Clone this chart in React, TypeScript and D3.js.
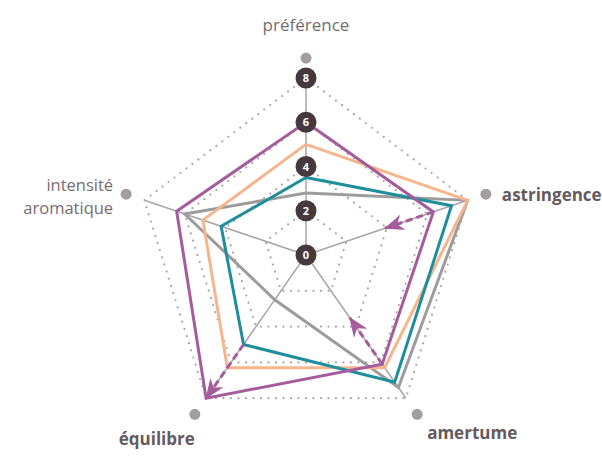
import React from "react";
import * as d3 from "d3";

const axes = ["préférence", "astringence", "amertume", "équilibre", "intensité aromatique"];
const seriesNames = ["gris", "pêche", "bleu", "violet"];
const grayValues = [2.8, 8.0, 7.4, 2.5, 6.0];
const peachValues = [5.0, 8.0, 6.3, 6.3, 5.1];
const tealValues = [3.5, 7.2, 7.1, 5.0, 4.2];
const purpleValues = [6.0, 6.3, 6.1, 8.0, 6.4];
const arrowAxis = [1, 2, 3];
const arrowFrom = [6.3, 6.1, 5.0];
const arrowTo = [3.9, 3.5, 8.0];
const gridLevels = [2, 4, 6, 8];
const tickLabels = [0, 2, 4, 6, 8];

const W = 602, H = 473;
const CX = 306, CY = 255, RX = 170, RY = 177;
const colors = ["#9d9c9c", "#f5b68e", "#1f8e9c", "#a55c9d"];
const allSeries = [grayValues, peachValues, tealValues, purpleValues];

const rScale = d3.scaleLinear().domain([0, 8]).range([0, 1]);
const aScale = d3.scaleLinear().domain([0, axes.length]).range([0, 2 * Math.PI]);

function pt(i: number, v: number): [number, number] {
  const a = aScale(i);
  const r = rScale(v);
  return [CX + RX * Math.sin(a) * r, CY - RY * Math.cos(a) * r];
}

const labelLayout = [
  { dx: 0, dy: -27, anchor: "middle", weight: 400, size: 17, gap: 0 },
  { dx: 16, dy: 7, anchor: "start", weight: 700, size: 17, gap: 0 },
  { dx: 10, dy: 25, anchor: "start", weight: 700, size: 17, gap: 0 },
  { dx: 0, dy: 31, anchor: "end", weight: 700, size: 17, gap: 0 },
  { dx: -13, dy: -3, anchor: "end", weight: 400, size: 16.5, gap: 22.5 },
];

export default function App() {
  const line = d3.line<[number, number]>().curve(d3.curveLinearClosed);
  const polyPath = (vals: number[]) => line(vals.map((v, i) => pt(i, v))) as string;

  return (
    <svg width={W} height={H} style={{ display: "block", position: "absolute", left: 0, top: 0 }}
      fontFamily="'Open Sans', sans-serif">
      <defs>
        <marker id="arr" markerUnits="userSpaceOnUse" markerWidth={20} markerHeight={16}
          viewBox="0 0 20 16" refX={19} refY={8} orient="auto">
          <path d="M0,0 L20,8 L0,16 L6,8 Z" fill={colors[3]} />
        </marker>
      </defs>
      <rect width={W} height={H} fill="#fff" />
      {gridLevels.map((lv) => (
        <path key={lv} d={line(axes.map((_, i) => pt(i, lv))) as string} fill="none"
          stroke="#a7a3a5" strokeWidth={2.2} strokeDasharray="0 7.5" strokeLinecap="round" />
      ))}
      {axes.map((_, i) => {
        const [x, y] = pt(i, 8);
        return <line key={i} x1={CX} y1={CY} x2={x} y2={y} stroke="#aaa4a6" strokeWidth={1.5} />;
      })}
      {allSeries.map((vals, k) => (
        <path key={seriesNames[k]} d={polyPath(vals)} fill="none" stroke={colors[k]}
          strokeWidth={3} strokeLinejoin="miter" />
      ))}
      {arrowAxis.map((ax, k) => {
        const [x1, y1] = pt(ax, arrowFrom[k]);
        const [x2, y2] = pt(ax, arrowTo[k]);
        return <line key={k} x1={x1} y1={y1} x2={x2} y2={y2} stroke={colors[3]} strokeWidth={3}
          strokeDasharray="7 4" markerEnd="url(#arr)" />;
      })}
      {tickLabels.map((t) => {
        const [x, y] = pt(0, t);
        return (
          <g key={t}>
            <circle cx={x} cy={y} r={10.5} fill="#45393e" />
            <text x={x} y={y + 4} textAnchor="middle" fill="#fff" fontSize={11} fontWeight={700}>{t}</text>
          </g>
        );
      })}
      {axes.map((name, i) => {
        const [x, y] = pt(i, 8.9);
        const L = labelLayout[i];
        const lines = i === 4 ? name.split(" ") : [name];
        return (
          <g key={name}>
            <circle cx={x} cy={y} r={5.5} fill="#a39d9f" />
            {lines.map((s, j) => (
              <text key={j} x={x + L.dx} y={y + L.dy + j * L.gap} textAnchor={L.anchor as any}
                fontSize={L.size} fontWeight={L.weight}
                fill={L.weight === 700 ? "#665960" : "#776c70"}>{s}</text>
            ))}
          </g>
        );
      })}
    </svg>
  );
}
